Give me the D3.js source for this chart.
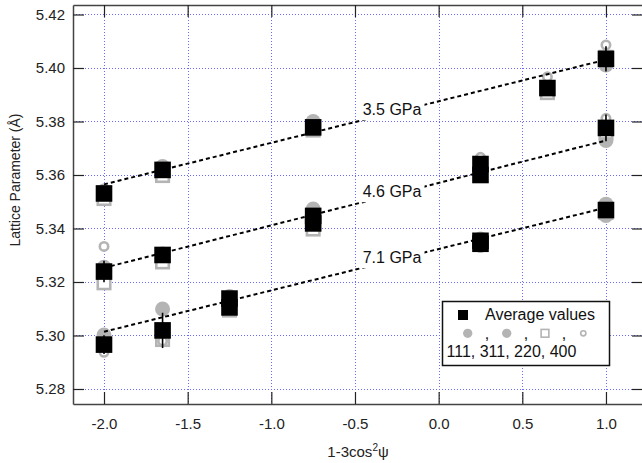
<!DOCTYPE html>
<html>
<head>
<meta charset="utf-8">
<script src="https://cdn.jsdelivr.net/npm/d3@7/dist/d3.min.js"></script>
<style>
  html, body { margin: 0; padding: 0; background: #fff; }
  svg { display: block; font-family: "Liberation Sans", Arial, sans-serif; }
</style>
</head>
<body>
<svg id="chart" width="642" height="463"></svg>
<script>
// ---- data -------------------------------------------------------------
const pressures = ["3.5 GPa", "4.6 GPa", "7.1 GPa"];
const reflections = ["111", "311", "220", "400"];

// positions (1-3cos²ψ) of the individual reflections, per pressure
const hklX35 = [-2.0, -1.65, -0.75, 0.65, 1.0];
const hklX46 = [-2.0, -1.65, -0.75, 0.25, 1.0];
const hklX71 = [-2.0, -1.65, -1.25, 0.25, 1.0];

// lattice parameter from each reflection (Å): [111, 311, 220, 400]
const hkl35 = [
  [5.3540, 5.3632, 5.3800, 5.3925, 5.4011],
  [5.3528, 5.3622, 5.3780, 5.3930, 5.4030],
  [5.3512, 5.3598, 5.3768, 5.3908, 5.4040],
  [5.3538, 5.3625, 5.3775, 5.3967, 5.4086]
];
const hkl46 = [
  [5.3255, 5.3305, 5.3473, 5.3640, 5.3729],
  [5.3240, 5.3300, 5.3440, 5.3625, 5.3775],
  [5.3197, 5.3275, 5.3398, 5.3605, 5.3760],
  [5.3333, 5.3300, 5.3430, 5.3666, 5.3812]
];
const hkl71 = [
  [5.3002, 5.3099, 5.3146, 5.3361, 5.3491],
  [5.2975, 5.3010, 5.3120, 5.3350, 5.3449],
  [5.2965, 5.2985, 5.3095, 5.3340, 5.3460],
  [5.2937, 5.2979, 5.3110, 5.3329, 5.3470]
];

// averaged values with their spread
const avgX35 = [-2.0, -1.65, -0.75, 0.65, 1.0];
const avg35  = [5.3531, 5.3619, 5.3778, 5.3925, 5.4034];
const err35  = [0.002, 0.002, 0.002, 0.002, 0.0047];

const avgX46 = [-2.0, -1.65, -0.75, -0.75, 0.25, 0.25, 1.0];
const avg46  = [5.3239, 5.3301, 5.3447, 5.3419, 5.3641, 5.3600, 5.3776];
const err46  = [0.004, 0.002, 0.002, 0.002, 0.002, 0.002, 0.005];

const avgX71 = [-2.0, -1.65, -1.25, -1.25, 0.25, 0.25, 1.0];
const avg71  = [5.2966, 5.3019, 5.3138, 5.3105, 5.3354, 5.3343, 5.3469];
const err71  = [0.0035, 0.0066, 0.002, 0.002, 0.002, 0.002, 0.002];

// linear fits, evaluated at the ends of the range
const fitX     = [-2.0, 1.0];
const fitStart = [5.3565, 5.3253, 5.3014];
const fitEnd   = [5.4031, 5.3729, 5.3478];

// axis ticks
const xTicks = [-2.0, -1.5, -1.0, -0.5, 0.0, 0.5, 1.0];
const yTicks = [5.28, 5.30, 5.32, 5.34, 5.36, 5.38, 5.40, 5.42];

// ---- layout -----------------------------------------------------------
const L = 73, R = 643, T = 5, B = 404;
const x = d3.scaleLinear().domain([-2.1853, 1.2213]).range([L, R]);
const y = d3.scaleLinear().domain([5.27439, 5.42355]).range([B, T]);

const GRAY = "#b4b4b4";
const svg = d3.select("#chart");
svg.append("rect").attr("width", 642).attr("height", 463).attr("fill", "#fff");

// grid
const grid = svg.append("g").attr("stroke", "#6a6aff").attr("stroke-width", 1)
  .attr("stroke-dasharray", "1,2");
grid.selectAll(".gx").data(xTicks).join("line")
  .attr("x1", d => Math.round(x(d)) + 0.5).attr("x2", d => Math.round(x(d)) + 0.5)
  .attr("y1", T).attr("y2", B);
grid.selectAll(".gy").data(yTicks).join("line")
  .attr("y1", d => Math.round(y(d)) + 0.5).attr("y2", d => Math.round(y(d)) + 0.5)
  .attr("x1", L).attr("x2", R);

// axes with inward ticks
function styleAxis(g) {
  g.selectAll(".domain").attr("stroke", "#444").attr("stroke-width", 1.5);
  g.selectAll(".tick line").attr("stroke", "#222").attr("stroke-width", 1.2);
  g.selectAll(".tick text").attr("fill", "#222")
    .style("font-size", "15px").style("font-family", "Liberation Sans, Arial, sans-serif");
}
svg.append("g").attr("transform", `translate(0,${B})`)
  .call(d3.axisBottom(x).tickValues(xTicks).tickSize(-12).tickSizeOuter(0).tickPadding(14)
    .tickFormat(d => d.toFixed(1)))
  .call(styleAxis);
svg.append("g").attr("transform", `translate(0,${T})`)
  .call(d3.axisTop(x).tickValues(xTicks).tickSize(-12).tickSizeOuter(0).tickFormat(""))
  .call(styleAxis);
svg.append("g").attr("transform", `translate(${L},0)`)
  .call(d3.axisLeft(y).tickValues(yTicks).tickSize(-11).tickSizeOuter(0).tickPadding(8)
    .tickFormat(d3.format(".2f")))
  .call(styleAxis);
svg.append("g").attr("transform", `translate(${R},0)`)
  .call(d3.axisRight(y).tickValues(yTicks).tickSize(-11).tickSizeOuter(0).tickFormat(""))
  .call(styleAxis);

// marker shapes for the reflections
function drawMarker(g, kind, cx, cy, s) {
  if (kind === 0 || kind === 1) {
    g.append("circle").attr("cx", cx).attr("cy", cy).attr("r", 7.5 * s).attr("fill", GRAY);
  } else if (kind === 2) {
    const w = 12.5 * s;
    g.append("rect").attr("x", cx - w / 2).attr("y", cy - w / 2).attr("width", w).attr("height", w)
      .attr("fill", "#fff").attr("stroke", GRAY).attr("stroke-width", 2.6 * s);
  } else {
    g.append("circle").attr("cx", cx).attr("cy", cy).attr("r", 4.2 * s)
      .attr("fill", "#fff").attr("stroke", GRAY).attr("stroke-width", 2.6 * s);
  }
}

// individual reflections
const hklSets = [[hklX35, hkl35], [hklX46, hkl46], [hklX71, hkl71]];
const pts = svg.append("g");
hklSets.forEach(([xs, sets]) => {
  sets.forEach((vals, k) => {
    vals.forEach((v, i) => drawMarker(pts, k, x(xs[i]), y(v), 1));
  });
});

// fit lines
const fits = pressures.map((p, i) => [[fitX[0], fitStart[i]], [fitX[1], fitEnd[i]]]);
svg.append("g").selectAll("path").data(fits).join("path")
  .attr("d", d3.line().x(d => x(d[0])).y(d => y(d[1])))
  .attr("fill", "none").attr("stroke", "#000").attr("stroke-width", 2)
  .attr("stroke-dasharray", "4,3");

// averages with error bars
const avgSets = [[avgX35, avg35, err35], [avgX46, avg46, err46], [avgX71, avg71, err71]];
const av = svg.append("g");
avgSets.forEach(([xs, vs, es]) => {
  vs.forEach((v, i) => {
    av.append("line").attr("x1", x(xs[i])).attr("x2", x(xs[i]))
      .attr("y1", y(v - es[i])).attr("y2", y(v + es[i]))
      .attr("stroke", "#000").attr("stroke-width", 1.6);
  });
  vs.forEach((v, i) => {
    av.append("rect").attr("x", x(xs[i]) - 8.3).attr("y", y(v) - 8.3)
      .attr("width", 16.6).attr("height", 16.6).attr("fill", "#000");
  });
});

// pressure labels sitting on the fit lines
const labelX = -0.2785;
pressures.forEach((p, i) => {
  const v = fitStart[i] + (fitEnd[i] - fitStart[i]) * (labelX - fitX[0]) / (fitX[1] - fitX[0]);
  const g = svg.append("g");
  const t = g.append("text").attr("x", x(labelX)).attr("y", y(v) + 2.5)
    .attr("text-anchor", "middle").style("font-size", "16px").attr("fill", "#111").text(p);
  const bb = t.node().getBBox();
  g.insert("rect", "text").attr("x", bb.x - 3).attr("y", bb.y - 1)
    .attr("width", bb.width + 6).attr("height", bb.height + 3).attr("fill", "#fff");
});

// legend
const lg = svg.append("g");
lg.append("rect").attr("x", 442.5).attr("y", 301.5).attr("width", 167).attr("height", 64)
  .attr("fill", "#fff").attr("stroke", "#111").attr("stroke-width", 1.5);
lg.append("rect").attr("x", 458).attr("y", 310).attr("width", 10).attr("height", 10).attr("fill", "#000");
lg.append("text").attr("x", 485).attr("y", 319.5).style("font-size", "16px").attr("fill", "#111")
  .text("Average values");
const legX = [467.7, 506.7, 545, 583.3];
reflections.forEach((r, k) => drawMarker(lg, k, legX[k], 333.3, 0.62));
[487, 526, 564].forEach(cx => lg.append("text").attr("x", cx).attr("y", 339)
  .attr("text-anchor", "middle").style("font-size", "16px").attr("fill", "#111").text(","));
lg.append("text").attr("x", 446.5).attr("y", 356.7).style("font-size", "16px").attr("fill", "#111")
  .text(reflections.join(", "));

// axis titles
const xt = svg.append("text").attr("x", 358).attr("y", 457).attr("text-anchor", "middle")
  .style("font-size", "15px").attr("fill", "#222");
xt.append("tspan").text("1-3cos");
xt.append("tspan").attr("dy", -6).style("font-size", "10px").text("2");
xt.append("tspan").attr("dy", 6).text("ψ");

svg.append("text").attr("transform", "translate(19.5,180) rotate(-90)")
  .attr("text-anchor", "middle").style("font-size", "14px").attr("fill", "#222")
  .text("Lattice Parameter (Å)");
</script>
</body>
</html>
